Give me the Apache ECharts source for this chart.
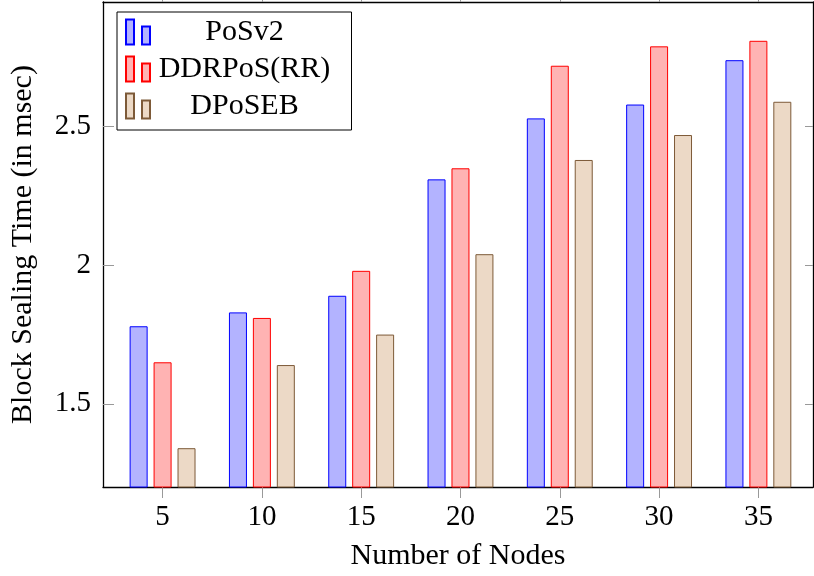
<!DOCTYPE html>
<html>
<head>
<meta charset="utf-8">
<script src="https://cdn.jsdelivr.net/npm/echarts@6/dist/echarts.min.js"></script>
<style>
  html, body { margin: 0; padding: 0; background: #fff; }
  #chart { width: 814px; height: 576px; }
</style>
</head>
<body>
<div id="chart"></div>
<script>
// data
var nodes = [5, 10, 15, 20, 25, 30, 35];
var posv2 = [1.78, 1.83, 1.89, 2.31, 2.53, 2.58, 2.74];
var ddrpos = [1.65, 1.81, 1.98, 2.35, 2.72, 2.79, 2.81];
var dposeb = [1.34, 1.64, 1.75, 2.04, 2.38, 2.47, 2.59];
var yTicks = [1.5, 2, 2.5];

function pairs(vals) {
  return nodes.map(function (n, i) { return [n, vals[i]]; });
}

var font = 'Liberation Serif';
var tickGray = '#999999';
var legendIcon = 'path://M0,0h8v25h-8z M16,7h8v18h-8z';

var myChart = echarts.init(document.getElementById('chart'));

var option = {
  animation: false,
  textStyle: { fontFamily: font },
  grid: { left: 102, right: 1, top: 2, bottom: 89 },
  legend: {
    orient: 'vertical',
    left: 117,
    top: 12,
    padding: [5, 18, 9, 8],
    itemWidth: 25,
    itemHeight: 25,
    itemGap: 7,
    icon: legendIcon,
    backgroundColor: '#fff',
    borderColor: '#000',
    borderWidth: 1,
    borderRadius: 0,
    formatter: function (name) { return '{c|' + name + '}'; },
    textStyle: {
      fontFamily: font,
      fontSize: 30,
      color: '#000',
      rich: { c: { width: 178, align: 'center', fontFamily: font, fontSize: 30, lineHeight: 30 } }
    },
    data: ['PoSv2', 'DDRPoS(RR)', 'DPoSEB']
  },
  xAxis: [{
    type: 'value',
    min: 2,
    max: 37.75,
    name: 'Number of Nodes',
    nameLocation: 'middle',
    nameGap: 54,
    nameTextStyle: { fontFamily: font, fontSize: 30, color: '#000' },
    axisLine: { show: true, onZero: false, lineStyle: { color: '#000', width: 1.3 } },
    axisTick: { show: true, inside: false, length: 11, customValues: nodes, lineStyle: { color: tickGray } },
    axisLabel: { customValues: nodes, margin: 16, fontFamily: font, fontSize: 29, color: '#000' },
    splitLine: { show: false }
  }, {
    type: 'value',
    position: 'top',
    min: 2,
    max: 37.75,
    axisLine: { show: true, onZero: false, lineStyle: { color: '#000', width: 1.3 } },
    axisTick: { show: true, inside: false, length: 4, customValues: nodes, lineStyle: { color: tickGray } },
    axisLabel: { show: false },
    splitLine: { show: false }
  }],
  yAxis: [{
    type: 'value',
    min: 1.2,
    max: 2.95,
    name: 'Block Sealing Time (in msec)',
    nameLocation: 'middle',
    nameGap: 65,
    nameTextStyle: { fontFamily: font, fontSize: 30, color: '#000' },
    axisLine: { show: true, onZero: false, lineStyle: { color: '#000', width: 1.3 } },
    axisTick: { show: true, inside: true, length: 11, customValues: yTicks, lineStyle: { color: tickGray } },
    axisLabel: { customValues: yTicks, margin: 12, fontFamily: font, fontSize: 29, color: '#000' },
    splitLine: { show: false }
  }, {
    type: 'value',
    position: 'right',
    min: 1.2,
    max: 2.95,
    axisLine: { show: true, onZero: false, lineStyle: { color: '#000', width: 1.3 } },
    axisTick: { show: true, inside: true, length: 8, customValues: yTicks, lineStyle: { color: tickGray } },
    axisLabel: { show: false },
    splitLine: { show: false }
  }],
  series: [{
    name: 'PoSv2',
    type: 'bar',
    barWidth: 18,
    barGap: '33%',
    itemStyle: { color: '#b3b3ff', borderColor: '#0000ff', borderWidth: 1 },
    data: pairs(posv2)
  }, {
    name: 'DDRPoS(RR)',
    type: 'bar',
    barWidth: 18,
    barGap: '33%',
    itemStyle: { color: '#ffb3b3', borderColor: '#ff0000', borderWidth: 1 },
    data: pairs(ddrpos)
  }, {
    name: 'DPoSEB',
    type: 'bar',
    barWidth: 18,
    barGap: '33%',
    itemStyle: { color: '#ecd9c6', borderColor: '#7d5a38', borderWidth: 1 },
    data: pairs(dposeb)
  }]
};

myChart.setOption(option);
</script>
</body>
</html>
